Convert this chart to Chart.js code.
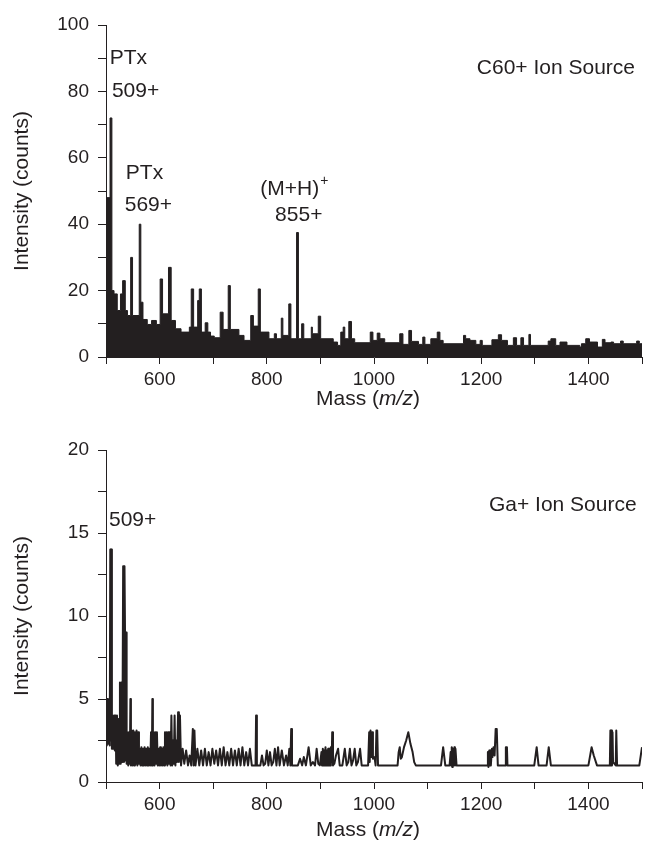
<!DOCTYPE html>
<html>
<head>
<meta charset="utf-8">
<script src="https://cdn.jsdelivr.net/npm/chart.js@4"></script>
<style>
  html, body { margin: 0; padding: 0; background: #fff; }
  #wrap { position: relative; width: 646px; height: 842px; }
  canvas { position: absolute; left: 0; }
  #c60Chart { top: 0; }
  #gaChart { top: 420px; }
</style>
</head>
<body>
<div id="wrap">
  <canvas id="c60Chart" width="646" height="420"></canvas>
  <canvas id="gaChart" width="646" height="422"></canvas>
</div>
<script>
// axis ticks
const xTickLabels = [600, 800, 1000, 1200, 1400];
const c60YLabels = [0, 20, 40, 60, 80, 100];
const gaYLabels = [0, 5, 10, 15, 20];

// C60+ spectrum: [mass where level starts, counts]
const c60Spectrum = [
  [500, 48], [507.5, 72], [511, 20], [515, 19], [521, 14], [527, 19], [531, 23], [536, 14],
  [540, 12.5], [546, 30], [549.5, 12.5], [562, 40], [565, 16.5], [569, 11.3], [577, 9.8],
  [585, 11], [594, 9.8], [601, 23.5], [605.5, 13], [616.6, 27], [621.6, 11], [629.6, 8.5],
  [640, 7.5], [655.5, 9], [659, 20.5], [663.5, 9], [671, 17], [674, 20.5], [678, 7.5],
  [685, 10.3], [690, 7.5], [695, 6.3], [702, 5.8], [713, 13.5], [718.5, 8.3], [728, 21.5],
  [732, 8.3], [748, 6.5], [757.5, 5], [770, 12.5], [775, 9.3], [784, 20.5], [788, 7.5],
  [804, 5.5], [814, 7], [818, 5.5], [827, 11.7], [830, 6.5], [841, 16], [845, 5.5],
  [855.5, 37.5], [859, 5.5], [865, 10], [869, 5.5], [883, 9], [885, 7], [896, 12.3],
  [900.5, 5.5], [924, 4.5], [932, 3.5], [938, 7.5], [942.5, 9], [945.5, 5.5], [953, 10.7],
  [958, 5.5], [964, 4.3], [993, 7.5], [998, 5], [1006, 7.2], [1011, 5.5], [1020, 4.3],
  [1048, 7], [1054, 3.8], [1065, 8], [1070, 4.7], [1083, 3.8], [1091, 6], [1095, 3.8],
  [1106, 5.5], [1118, 7.5], [1123, 5], [1129, 4], [1167, 6.5], [1171, 5.5], [1179, 5],
  [1190, 3.8], [1198, 5], [1202, 3.5], [1220, 5.2], [1232, 6.7], [1238, 5], [1249, 3.5],
  [1260, 5.8], [1266, 3.5], [1274, 5.8], [1279, 3.5], [1289, 6.8], [1292, 3.5], [1325, 4.8],
  [1330, 5.5], [1339, 3.5], [1347, 4.5], [1360, 3.5], [1384, 3], [1387, 4], [1395, 5.5],
  [1402, 4.5], [1417, 3], [1426, 5.3], [1431, 4.3], [1442, 4.5], [1447, 4], [1460, 4.8],
  [1465, 4], [1490, 4.8], [1495, 4], [1500, 4]
];

// Ga+ spectrum trace: [mass, counts]
const gaSpectrum = [
  [500, 5], [501.5, 2.2], [503, 5], [504.5, 2.3], [506, 5], [507, 2.2],
  [508, 14], [509, 2.5], [510, 14], [511, 2],
  [512, 4], [513.5, 2], [515, 4], [516.5, 1.9], [518, 4],
  [519, 1.1], [520.5, 4], [522, 1], [523.5, 3.8], [525, 1.1],
  [526, 6], [527.5, 1.1], [529, 6], [530.5, 1.2],
  [532, 13], [533.5, 1.2], [534.5, 13], [535.5, 9], [536.5, 1.3], [537.5, 9], [538.5, 1.1],
  [540, 3], [541.5, 1], [543, 3], [544.5, 1.1], [545.5, 5], [546.5, 1],
  [548, 3.1], [549.5, 1], [551, 3.1], [552.5, 1], [554, 3], [555.5, 1.1], [557, 3.1],
  [558.5, 1], [560, 3], [561.5, 1.1], [563, 2],
  [564.5, 1], [566, 2.1], [567.5, 1], [569, 2], [570.5, 1], [572, 2.1], [573.5, 1],
  [575, 2], [576.5, 1], [578, 2.1], [579.5, 1], [581, 2],
  [582.5, 1], [584, 3], [585.5, 1], [586.5, 5], [587.5, 1], [589, 3], [590.5, 1],
  [592, 3], [593.5, 1.1], [595, 3], [596.5, 1],
  [598, 2], [599.5, 1], [601, 2.1], [602.5, 1], [604, 2], [605.5, 1], [607, 2.1], [608.5, 1],
  [610, 3], [611.5, 1.1], [613, 3], [614.5, 1], [616, 3], [617.5, 1.1], [619, 3], [620.5, 1],
  [622, 4], [623.5, 1], [625, 2.5], [626.5, 1.1], [628, 4], [629.5, 1], [631, 2.5],
  [632.5, 1.2], [634.5, 4.2], [636, 1.2], [638, 4], [640, 1],
  [643, 2], [646, 1.1], [649.5, 1.9], [653, 1], [656, 1.6], [659, 1], [662, 3.2],
  [663.5, 1], [665, 3.1], [667, 1], [670.5, 2], [674, 1], [677.5, 1.9], [681, 1],
  [684.5, 2], [688, 1], [691.5, 1.8], [695, 1], [698.5, 2], [702, 1.1], [705.5, 1.9],
  [709, 1], [712.5, 2], [716, 1], [719.5, 2.1], [723, 1], [726.5, 1.8], [730, 1],
  [733.5, 2], [737, 1], [740.5, 1.9], [744, 1], [747.5, 2], [751, 1], [754.5, 2.1],
  [758, 1], [761.5, 1.8], [765, 1], [768.5, 2], [772, 1], [776, 1], [779, 1], [780, 4],
  [781.5, 1], [788, 1], [791, 1.6], [794, 1], [797, 1.1], [800, 1.9], [803, 1], [806, 1.8],
  [809, 1], [812, 1.2], [815, 2], [818, 1], [821, 2.1], [824, 1], [828, 1.9], [832, 1],
  [836, 1.6], [839, 1], [842, 2], [844, 1], [845.5, 3.2], [847, 1],
  [858, 1], [862, 1.4], [866, 1], [869, 1.5], [873, 1], [878, 2.1], [882, 1], [886, 1.2],
  [890, 1], [893, 2], [896, 1.1], [899, 1], [902, 1.8], [903, 1], [904.5, 2], [905.5, 1],
  [907, 1.9], [908, 1], [909.5, 2.1], [910.5, 1], [912, 1.9], [913, 1], [914.5, 2],
  [915.5, 1], [917, 2], [918, 1], [919.5, 2.1], [921, 1.2], [922, 3], [923.5, 1],
  [926, 1.1], [929, 1.6], [933, 2], [936, 1], [941, 1], [945.5, 2], [949, 1], [952, 1.2],
  [955, 2], [958, 1], [961, 1.3], [964, 2], [967, 1], [970, 1.2], [974, 2], [977, 1],
  [989, 1], [991, 3], [992, 1.2], [993.5, 3.1], [995, 1.5], [996.5, 3], [998, 1.4],
  [1001, 1.5], [1003, 1], [1004.5, 3.1], [1006, 3.1], [1007.5, 1], [1044, 1], [1046, 1.8],
  [1048, 2.1], [1050, 1.4], [1052, 1.5], [1056, 2.1], [1060, 2.5], [1064, 3], [1068, 2.3],
  [1072, 1.8], [1075, 1.2], [1078, 1], [1125, 1], [1129, 2.1], [1133, 1], [1141, 1],
  [1143, 1.8], [1144, 1], [1145, 2.1], [1146, 0.9], [1147, 2], [1148, 1], [1150, 2.1],
  [1151, 1], [1152, 2], [1154, 1], [1211, 1], [1212.5, 1.8], [1213.5, 0.9], [1215, 1.9],
  [1216, 1], [1217, 1.9], [1218, 1], [1220, 2], [1221, 1.5], [1223, 2.1], [1225, 1.6],
  [1227, 3.2], [1229, 3.2], [1231, 1], [1245, 1], [1246, 2.1], [1248, 2.1], [1249, 1],
  [1299, 1], [1303.5, 2.1], [1307, 1], [1322, 1], [1326, 2.1], [1330, 1], [1400, 1],
  [1406, 2.1], [1410, 1.6], [1416, 1], [1440, 1], [1441, 3.1], [1442, 1], [1443, 3.1],
  [1444, 1], [1445, 3], [1446, 1.2], [1451, 1], [1452, 3.1], [1453.5, 1], [1495, 1],
  [1500, 2.1]
];

// peak labels, anchored at [mass, counts]
const c60Notes = [
  { text: 'PTx', mass: 507, counts: 90 },
  { text: '509+', mass: 511, counts: 80 },
  { text: 'PTx', mass: 537, counts: 55.4 },
  { text: '569+', mass: 535, counts: 45.6 },
  { text: '(M+H)', sup: '+', mass: 788, counts: 50.5 },
  { text: '855+', mass: 815.5, counts: 42.6 },
  { text: 'C60+ Ion Source', mass: 1487, counts: 87.1, align: 'right' }
];
const gaNotes = [
  { text: '509+', mass: 505.6, counts: 15.75 },
  { text: 'Ga+ Ion Source', mass: 1490, counts: 16.7, align: 'right' }
];

const ink = '#231f20';
const family = '"Liberation Sans", Arial, Helvetica, sans-serif';

const notesPlugin = {
  id: 'notes',
  afterDraw(chart, args, opts) {
    const { ctx, chartArea } = chart;
    const x = chart.scales.x, y = chart.scales.y;
    ctx.save();
    ctx.fillStyle = ink;
    ctx.textBaseline = 'middle';
    opts.notes.forEach(n => {
      ctx.font = '21px ' + family;
      ctx.textAlign = n.align || 'left';
      const px = x.getPixelForValue(n.mass);
      const py = y.getPixelForValue(n.counts);
      ctx.fillText(n.text, px, py);
      if (n.sup) {
        const w = ctx.measureText(n.text).width;
        ctx.font = '14px ' + family;
        ctx.textAlign = 'left';
        ctx.fillText(n.sup, px + w + 1, py - 8);
      }
    });

    // x axis title with italic m/z
    const parts = [['Mass (', ''], ['m/z', 'italic '], [')', '']];
    let total = 0;
    parts.forEach(p => { ctx.font = p[1] + '21px ' + family; total += ctx.measureText(p[0]).width; });
    let tx = (chartArea.left + chartArea.right) / 2 - 6 - total / 2;
    const ty = chartArea.bottom + opts.titleGap;
    ctx.textAlign = 'left';
    parts.forEach(p => {
      ctx.font = p[1] + '21px ' + family;
      ctx.fillText(p[0], tx, ty);
      tx += ctx.measureText(p[0]).width;
    });
    ctx.restore();
  }
};

function axisOptions(yMax, yStep, yLabels, xHeight) {
  return {
    x: {
      type: 'linear', min: 500, max: 1500,
      border: { display: true, color: ink, width: 1 },
      grid: { drawOnChartArea: false, tickLength: 7, color: ink },
      ticks: {
        stepSize: 100, padding: 4, color: ink, autoSkip: false, maxRotation: 0,
        font: { size: 19, family: family },
        callback: v => xTickLabels.includes(v) ? v : ''
      },
      afterFit: s => { s.height = xHeight; }
    },
    y: {
      min: 0, max: yMax,
      border: { display: true, color: ink, width: 1 },
      grid: { drawOnChartArea: false, tickLength: 8, color: ink },
      ticks: {
        stepSize: yStep, padding: 9, color: ink, autoSkip: false,
        font: { size: 19, family: family },
        callback: v => yLabels.includes(v) ? v : ''
      },
      title: {
        display: true, text: 'Intensity (counts)', color: ink,
        font: { size: 21, family: family }, padding: { top: 10, bottom: 0 }
      },
      afterFit: s => { s.width = 106; }
    }
  };
}

// C60+ chart
new Chart(document.getElementById('c60Chart'), {
  type: 'line',
  data: {
    datasets: [{
      data: c60Spectrum.map(([m, c]) => ({ x: m, y: c })),
      stepped: 'before',
      fill: 'origin',
      backgroundColor: ink,
      borderColor: ink,
      borderWidth: 1,
      pointRadius: 0
    }]
  },
  options: {
    responsive: false,
    animation: false,
    layout: { padding: { top: 25, right: 1, left: 0, bottom: 0 } },
    scales: axisOptions(100, 10, c60YLabels, 63),
    plugins: {
      legend: { display: false },
      tooltip: { enabled: false },
      notes: { notes: c60Notes, titleGap: 42 }
    }
  },
  plugins: [notesPlugin]
});

// Ga+ chart
new Chart(document.getElementById('gaChart'), {
  type: 'line',
  data: {
    datasets: [{
      data: gaSpectrum.map(([m, c]) => ({ x: m, y: c })),
      fill: false,
      borderColor: ink,
      borderWidth: 2,
      borderJoinStyle: 'round',
      tension: 0,
      pointRadius: 0
    }]
  },
  options: {
    responsive: false,
    animation: false,
    layout: { padding: { top: 30, right: 1, left: 0, bottom: 0 } },
    scales: axisOptions(20, 2.5, gaYLabels, 60),
    plugins: {
      legend: { display: false },
      tooltip: { enabled: false },
      notes: { notes: gaNotes, titleGap: 48 }
    }
  },
  plugins: [notesPlugin]
});
</script>
</body>
</html>
